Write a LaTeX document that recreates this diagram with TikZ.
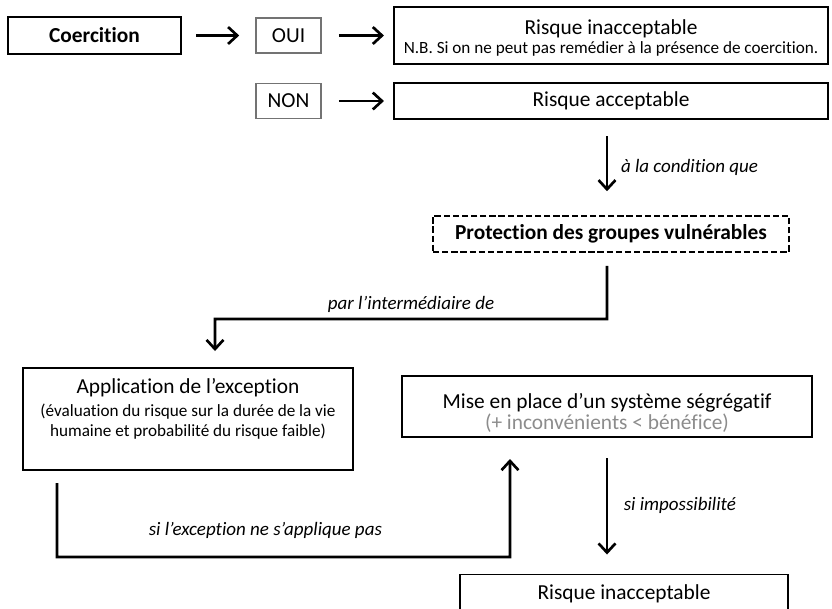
\documentclass[tikz,border=0pt]{standalone}
\usepackage{fontspec}
\setmainfont{Carlito}[Ligatures=NoCommon]
\usetikzlibrary{arrows.meta,positioning}

\newcommand\bigtxt{\fontsize{15.2}{18}\selectfont}
\newcommand\smalltxt{\fontsize{12.2}{14.2}\selectfont}
\newcommand\labtxt{\fontsize{13.5}{16}\selectfont\itshape}

\begin{document}
\begin{tikzpicture}
  [x=0.025cm,y=-0.025cm,
   every node/.style={font=\bigtxt},
   box/.style={draw,line width=1.4pt,inner sep=0pt},
   choice/.style={draw=black!55,line width=1.1pt,minimum width=1.625cm,minimum height=0.875cm,inner sep=0pt},
   arr/.style={line width=1.9pt,-{Straight Barb[length=6.5pt,width=12pt]}},
   lab/.style={font=\labtxt}]

  \useasboundingbox (0,0) rectangle (832,608);

  % first row: coercion yes / no
  \node[box,font=\bigtxt\bfseries,minimum width=4.325cm,minimum height=0.925cm] (coer) at (94.5,35.5) {Coercition};
  \node[choice] (oui) at (288.5,35.5) {OUI};
  \node[choice] (non) at (288.5,101) {NON};
  \node[box,minimum width=10.85cm,minimum height=1.425cm] (risk1) at (611,35.5) {};
  \node[align=center] (risk1txt) at (611,38)
    {Risque inacceptable\\[-4pt]\smalltxt N.B. Si on ne peut pas remédier à la présence de coercition.};
  \node[box,minimum width=10.85cm,minimum height=0.9cm] (risk2) at (611,101) {Risque acceptable};

  \node[box,dashed,dash pattern=on 4.5pt off 2pt,line width=1.1pt,font=\bigtxt\bfseries,minimum width=8.9cm,minimum height=0.9cm] (prot) at (611,234) {Protection des groupes vulnérables};

  % lower part
  \node[box,minimum width=8.25cm,minimum height=2.55cm] (appl) at (188,419) {};
  \node (appltitle) at (188,388) {Application de l’exception};
  \node[font=\smalltxt,align=center] (applnote) at (188,421.5) {(évaluation du risque sur la durée de la vie\\humaine et probabilité du risque faible)};
  \node[box,minimum width=10.25cm,minimum height=1.525cm] (mise) at (607,406.5) {};
  \node[align=center] (misetxt) at (607,413)
    {Mise en place d’un système ségrégatif\\[-3pt]\textcolor{black!45}{(+ inconvénients < bénéfice)}};
  \node[box,minimum width=8.2cm,minimum height=0.95cm] (risk3) at (624,593.5) {Risque inacceptable};

  \coordinate (c0) at (607,319);
  \coordinate (c1) at (215,319);
  \coordinate (c2) at (57,557);
  \coordinate (c3) at (510,557);

  \draw[arr,shorten <=0.35cm,shorten >=0.4cm] (coer) -- (oui);
  \foreach \from/\to in {oui/risk1,non/risk2}
    \draw[arr,shorten <=0.425cm,shorten >=0.225cm] (\from) -- (\to);

  \draw[arr,shorten <=0.4cm,shorten >=0.6cm] ([xshift=-0.1cm]risk2.south)
    -- node[lab,right=0.2cm]{à la condition que} ([xshift=-0.1cm]prot.north);
  \draw[arr] ([xshift=-0.1cm,yshift=-0.325cm]prot.south) -- (c0)
    -- node[lab,above]{par l’intermédiaire de} (c1) -- ([xshift=0.675cm,yshift=0.4cm]appl.north);
  \draw[arr] ([xshift=-3.275cm,yshift=-0.3cm]appl.south) -- (c2)
    -- node[lab,above=0.3cm,pos=0.46]{si l’exception ne s’applique pas} (c3) -- ([xshift=-2.425cm,yshift=-0.525cm]mise.south);
  \draw[arr,shorten <=0.5cm,shorten >=0.475cm] (mise.south)
    -- node[lab,right=0.27cm]{si impossibilité} (mise.south |- risk3.north);

\end{tikzpicture}
\end{document}
